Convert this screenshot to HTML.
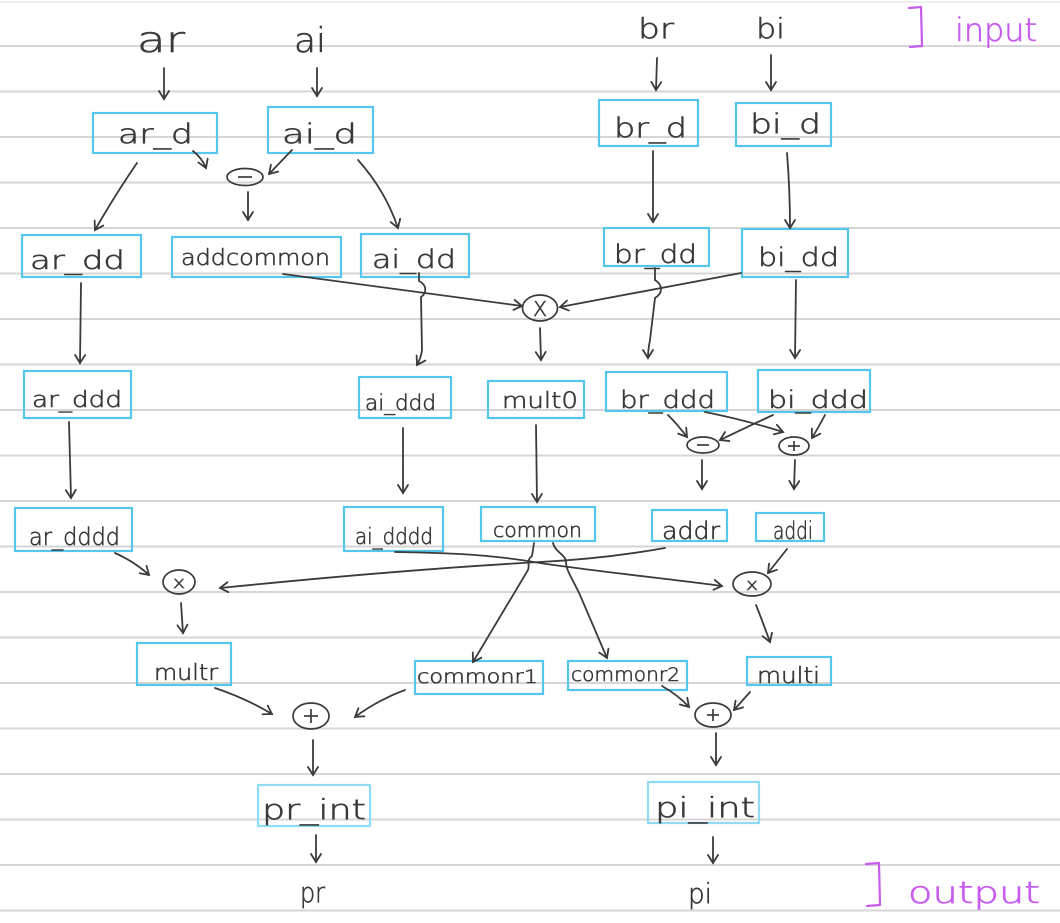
<!DOCTYPE html>
<html><head><meta charset="utf-8"><style>
html,body{margin:0;padding:0;background:#fff;}
svg{display:block;}
text{font-family:"DejaVu Sans","Liberation Sans",sans-serif;font-weight:200;fill:#3a3a3a;stroke:#3a3a3a;stroke-width:0.6;}
.pl{fill:#c75cf0;stroke:#c75cf0;}
</style></head><body>
<svg width="1060" height="923" viewBox="0 0 1060 923" xmlns="http://www.w3.org/2000/svg">
<defs>
<marker id="a" markerWidth="12" markerHeight="12" refX="10" refY="6" orient="auto" markerUnits="userSpaceOnUse">
<path d="M2,1 L10,6 L2,11" fill="none" stroke="#3b3b3b" stroke-width="1.8" stroke-linecap="round"/>
</marker>
</defs>
<rect width="1060" height="923" fill="#fff"/>
<g stroke="#d6d6d6" stroke-width="2">
<line x1="0" y1="2" x2="1060" y2="2" stroke="#efefef"/>
<line x1="0" y1="46" x2="1060" y2="46"/>
<line x1="0" y1="91.5" x2="1060" y2="91.5"/>
<line x1="0" y1="137" x2="1060" y2="137"/>
<line x1="0" y1="182.5" x2="1060" y2="182.5"/>
<line x1="0" y1="228" x2="1060" y2="228"/>
<line x1="0" y1="273.5" x2="1060" y2="273.5"/>
<line x1="0" y1="319" x2="1060" y2="319"/>
<line x1="0" y1="364.5" x2="1060" y2="364.5"/>
<line x1="0" y1="410" x2="1060" y2="410"/>
<line x1="0" y1="455.5" x2="1060" y2="455.5"/>
<line x1="0" y1="501" x2="1060" y2="501"/>
<line x1="0" y1="546.5" x2="1060" y2="546.5"/>
<line x1="0" y1="592" x2="1060" y2="592"/>
<line x1="0" y1="637.5" x2="1060" y2="637.5"/>
<line x1="0" y1="683" x2="1060" y2="683"/>
<line x1="0" y1="728.5" x2="1060" y2="728.5"/>
<line x1="0" y1="774" x2="1060" y2="774"/>
<line x1="0" y1="819.5" x2="1060" y2="819.5"/>
<line x1="0" y1="865" x2="1060" y2="865"/>
<line x1="0" y1="910.5" x2="1060" y2="910.5"/>
</g>

<g fill="none" stroke="#55c7ef" stroke-width="2.2">
<rect x="93" y="113" width="124" height="40"/>
<rect x="268" y="107" width="105" height="46"/>
<rect x="599" y="100" width="99" height="46"/>
<rect x="736" y="103" width="95" height="43"/>
<rect x="22" y="235" width="119" height="42"/>
<rect x="172" y="237" width="169" height="40"/>
<rect x="361" y="234" width="108" height="43"/>
<rect x="604" y="228" width="105" height="38"/>
<rect x="742" y="229" width="106" height="48"/>
<rect x="24" y="371" width="107" height="47"/>
<rect x="359" y="377" width="92" height="41"/>
<rect x="488" y="381" width="96" height="37"/>
<rect x="606" y="372" width="121" height="39"/>
<rect x="758" y="370" width="112" height="42"/>
<rect x="15" y="508" width="117" height="43"/>
<rect x="344" y="507" width="99" height="44"/>
<rect x="481" y="507" width="114" height="34"/>
<rect x="652" y="510" width="75" height="31"/>
<rect x="756" y="513" width="68" height="28"/>
<rect x="137" y="643" width="94" height="42"/>
<rect x="415" y="661" width="128" height="33"/>
<rect x="568" y="661" width="119" height="29"/>
<rect x="747" y="657" width="84" height="28"/>
<rect x="258" y="785" width="112" height="41" stroke="#8fdaf4"/>
<rect x="648" y="782" width="111" height="41" stroke="#8fdaf4"/>
</g>

<g fill="none" stroke="#3b3b3b" stroke-width="1.7">
<ellipse cx="245" cy="177" rx="18" ry="8.5"/>
<line x1="238" y1="177" x2="252" y2="177"/>
<ellipse cx="540" cy="308" rx="17.5" ry="13"/>
<ellipse cx="703" cy="445" rx="16" ry="8"/>
<line x1="697" y1="445" x2="709" y2="445"/>
<ellipse cx="794" cy="446" rx="15" ry="9"/>
<line x1="788" y1="446" x2="800" y2="446"/><line x1="794" y1="441" x2="794" y2="451"/>
<ellipse cx="179" cy="582" rx="16" ry="12"/>
<ellipse cx="752" cy="584" rx="19" ry="12"/>
<ellipse cx="311" cy="716" rx="18" ry="13"/>
<line x1="304" y1="716" x2="318" y2="716"/><line x1="311" y1="709" x2="311" y2="723"/>
<ellipse cx="713" cy="715" rx="18" ry="12"/>
<line x1="707" y1="715" x2="719" y2="715"/><line x1="713" y1="709" x2="713" y2="721"/>
</g>
<text x="533" y="316" font-size="20" textLength="14" lengthAdjust="spacingAndGlyphs">X</text>
<text x="173" y="588" font-size="16" textLength="12" lengthAdjust="spacingAndGlyphs">x</text>
<text x="746" y="590" font-size="16" textLength="12" lengthAdjust="spacingAndGlyphs">x</text>

<g fill="none" stroke="#3b3b3b" stroke-width="1.8" stroke-linecap="round" marker-end="url(#a)">
<path d="M164,68 L164,99"/>
<path d="M317,68 L317,96"/>
<path d="M657,58 L656,90"/>
<path d="M771,55 L771,90"/>
<path d="M137,163 Q115,195 95,230"/>
<path d="M193,151 Q202,158 206,168"/>
<path d="M292,150 L269,174"/>
<path d="M248,192 L248,220"/>
<path d="M358,160 Q385,190 398,228"/>
<path d="M653,151 L653,222"/>
<path d="M787,153 Q790,190 790,228"/>
<path d="M81,283 L80,363"/>
<path d="M283,274 Q400,290 522,306"/>
<path d="M419,273 L419,281 C427,285 427,293 421,297 L422,350 Q421,358 417,365"/>
<path d="M741,273 Q650,290 560,307"/>
<path d="M655,268 L655,280 C663,285 663,293 655,298 L650,340 Q648,350 648,358"/>
<path d="M540,328 L541,360"/>
<path d="M796,280 L795,358"/>
<path d="M69,422 L71,498"/>
<path d="M403,428 L403,493"/>
<path d="M536,425 L537,502"/>
<path d="M668,415 Q678,425 687,437"/>
<path d="M705,412 Q745,420 783,432"/>
<path d="M773,415 Q745,428 720,440"/>
<path d="M825,415 Q818,428 812,438"/>
<path d="M702,460 L702,489"/>
<path d="M795,460 L794,489"/>
<path d="M115,553 Q135,562 149,575"/>
<path d="M665,548 C620,556 580,560 540,562 C430,568 320,578 220,588"/>
<path d="M395,552 C470,553 505,557 540,563 C600,572 680,580 722,586"/>
<path d="M787,549 L768,573"/>
<path d="M534,543 L532,556 C526,560 530,566 528,570 L473,662"/>
<path d="M553,543 C555,552 566,555 566,562 C566,570 572,578 580,595 L607,658"/>
<path d="M181,603 L183,633"/>
<path d="M756,605 Q762,620 770,642"/>
<path d="M215,688 Q245,698 272,714"/>
<path d="M405,690 Q378,700 355,717"/>
<path d="M662,686 Q678,695 689,707"/>
<path d="M750,692 L734,710"/>
<path d="M313,740 L313,775"/>
<path d="M716,733 L716,765"/>
<path d="M316,835 L316,862"/>
<path d="M713,837 L713,863"/>
</g>

<g>
<text x="137" y="52" font-size="36" textLength="48" lengthAdjust="spacingAndGlyphs">ar</text>
<text x="294" y="52" font-size="34" textLength="32" lengthAdjust="spacingAndGlyphs">ai</text>
<text x="638" y="38" font-size="28" textLength="36" lengthAdjust="spacingAndGlyphs">br</text>
<text x="756" y="38" font-size="28" textLength="29" lengthAdjust="spacingAndGlyphs">bi</text>

<text x="118" y="143" font-size="27" textLength="75" lengthAdjust="spacingAndGlyphs">ar_d</text>
<text x="282" y="143" font-size="27" textLength="75" lengthAdjust="spacingAndGlyphs">ai_d</text>
<text x="614" y="137" font-size="27" textLength="73" lengthAdjust="spacingAndGlyphs">br_d</text>
<text x="750" y="133" font-size="27" textLength="71" lengthAdjust="spacingAndGlyphs">bi_d</text>

<text x="30" y="269" font-size="26" textLength="95" lengthAdjust="spacingAndGlyphs">ar_dd</text>
<text x="181" y="265" font-size="22" textLength="149" lengthAdjust="spacingAndGlyphs">addcommon</text>
<text x="372" y="268" font-size="26" textLength="84" lengthAdjust="spacingAndGlyphs">ai_dd</text>
<text x="614" y="263" font-size="26" textLength="83" lengthAdjust="spacingAndGlyphs">br_dd</text>
<text x="758" y="266" font-size="26" textLength="81" lengthAdjust="spacingAndGlyphs">bi_dd</text>

<text x="32" y="407" font-size="22" textLength="90" lengthAdjust="spacingAndGlyphs">ar_ddd</text>
<text x="365" y="410" font-size="21" textLength="71" lengthAdjust="spacingAndGlyphs">ai_ddd</text>
<text x="502" y="408" font-size="22" textLength="76" lengthAdjust="spacingAndGlyphs">mult0</text>
<text x="620" y="408" font-size="24" textLength="95" lengthAdjust="spacingAndGlyphs">br_ddd</text>
<text x="768" y="408" font-size="24" textLength="100" lengthAdjust="spacingAndGlyphs">bi_ddd</text>

<text x="29" y="545" font-size="24" textLength="91" lengthAdjust="spacingAndGlyphs">ar_dddd</text>
<text x="355" y="544" font-size="22" textLength="78" lengthAdjust="spacingAndGlyphs">ai_dddd</text>
<text x="493" y="537" font-size="20" textLength="89" lengthAdjust="spacingAndGlyphs">common</text>
<text x="662" y="539" font-size="24" textLength="58" lengthAdjust="spacingAndGlyphs">addr</text>
<text x="773" y="539" font-size="24" textLength="40" lengthAdjust="spacingAndGlyphs">addi</text>

<text x="154" y="680" font-size="22" textLength="64" lengthAdjust="spacingAndGlyphs">multr</text>
<text x="417" y="683" font-size="19" textLength="121" lengthAdjust="spacingAndGlyphs">commonr1</text>
<text x="571" y="681" font-size="19" textLength="109" lengthAdjust="spacingAndGlyphs">commonr2</text>
<text x="757" y="683" font-size="22" textLength="63" lengthAdjust="spacingAndGlyphs">multi</text>

<text x="262" y="819" font-size="28" textLength="104" lengthAdjust="spacingAndGlyphs">pr_int</text>
<text x="655" y="817" font-size="28" textLength="100" lengthAdjust="spacingAndGlyphs">pi_int</text>

<text x="300" y="902" font-size="28" textLength="25" lengthAdjust="spacingAndGlyphs">pr</text>
<text x="688" y="903" font-size="28" textLength="24" lengthAdjust="spacingAndGlyphs">pi</text>
</g>

<g fill="none" stroke="#c75cf0" stroke-width="2.2" stroke-linecap="round" stroke-linejoin="round">
<path d="M909,8 L921,7 L922,46 L910,47"/>
<path d="M866,864 L879,863 L880,905 L867,906"/>
</g>
<text class="pl" x="955" y="41" font-size="32" textLength="82" lengthAdjust="spacingAndGlyphs">input</text>
<text class="pl" x="908" y="903" font-size="30" textLength="132" lengthAdjust="spacingAndGlyphs">output</text>
</svg>
</body></html>
